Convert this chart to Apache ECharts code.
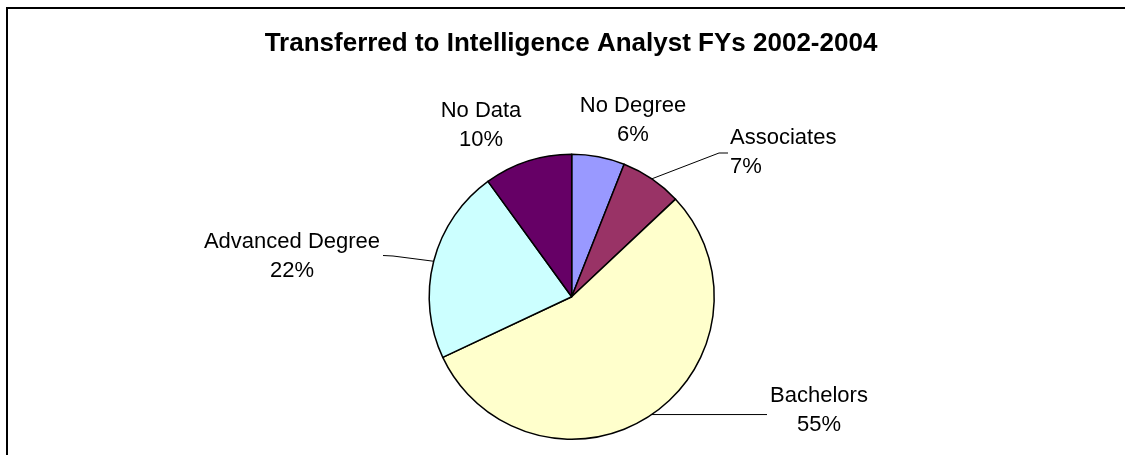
<!DOCTYPE html>
<html>
<head>
<meta charset="utf-8">
<title>Transferred to Intelligence Analyst FYs 2002-2004</title>
<script src="https://cdn.jsdelivr.net/npm/echarts/dist/echarts.min.js"></script>
<style>
    html, body { margin: 0; padding: 0; background: #fff; }
    #chart { width: 1125px; height: 455px; }
</style>
</head>
<body>
<div id="chart"></div>
<script>
// data (percent of transfers)
const categories = ['No Degree', 'Associates', 'Bachelors', 'Advanced Degree', 'No Data']
const percents = [6, 7, 55, 22, 10]
const colors = ['#9999FF', '#993366', '#FFFFCC', '#CCFFFF', '#660066']

// where each label sits, plus the bend of its leader line (null = no line)
// a null y in a bend point means "same height as the start on the pie edge"
const labelPos = [
    { x: 633, y: 120, align: 'center', line: null },
    { x: 730, y: 152, align: 'left', line: [[719, 153], [728, 153]] },
    { x: 819, y: 410, align: 'center', line: [[767, null]] },
    { x: 292, y: 256, align: 'center', line: [[393, 256], [383, 255.5]] },
    { x: 481, y: 125, align: 'center', line: null }
]

const chart = echarts.init(document.getElementById('chart'))

chart.setOption({
    animation: false,
    backgroundColor: '#fff',
    textStyle: {
        fontFamily: 'Liberation Sans, Arial, sans-serif'
    },
    title: {
        text: 'Transferred to Intelligence Analyst FYs 2002-2004',
        left: 571,
        top: 31,
        padding: 0,
        textAlign: 'center',
        textStyle: {
            fontFamily: 'Liberation Sans, Arial, sans-serif',
            fontSize: 26,
            fontWeight: 'bold',
            color: '#000'
        }
    },
    graphic: [
        {
            type: 'rect',
            shape: { x: 7, y: 8, width: 1140, height: 470 },
            style: { fill: 'none', stroke: '#000', lineWidth: 2 },
            silent: true
        }
    ],
    series: [
        {
            type: 'pie',
            center: [571.7, 296.7],
            radius: 142.5,
            startAngle: 90,
            clockwise: true,
            avoidLabelOverlap: false,
            itemStyle: {
                borderColor: '#000',
                borderWidth: 1.5
            },
            label: {
                show: true,
                position: 'outside',
                formatter: '{b}\n{d}%',
                fontSize: 22,
                lineHeight: 29,
                color: '#000'
            },
            labelLine: {
                show: true,
                lineStyle: { color: '#000', width: 1 }
            },
            labelLayout: function (params) {
                const p = labelPos[params.dataIndex]
                const res = {
                    x: p.x,
                    y: p.y,
                    align: p.align,
                    verticalAlign: 'middle'
                }
                if (p.line && params.labelLinePoints) {
                    const start = params.labelLinePoints[0]
                    const rest = p.line.map(pt => [pt[0], pt[1] === null ? start[1] : pt[1]])
                    res.labelLinePoints = [start].concat(rest)
                }
                return res
            },
            data: categories.map((name, i) => ({
                name: name,
                value: percents[i],
                itemStyle: { color: colors[i] },
                labelLine: { show: labelPos[i].line !== null }
            }))
        }
    ]
})
</script>
</body>
</html>
